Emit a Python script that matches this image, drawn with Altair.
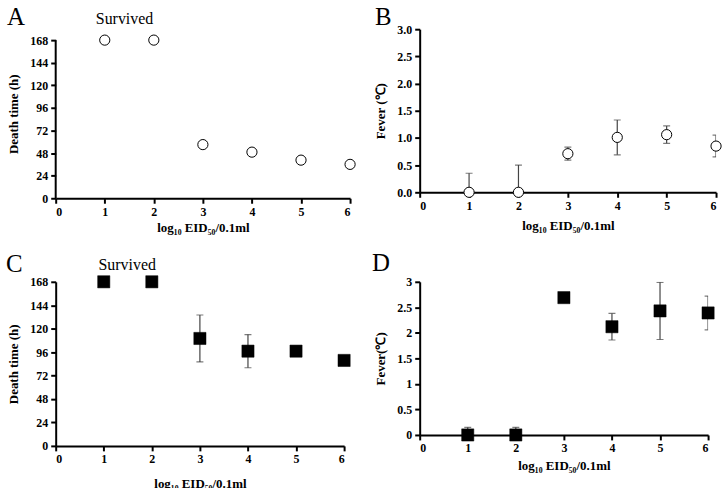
import altair as alt
import pandas as pd

FONT = "Liberation Serif"

# log10 EID50/0.1ml doses
dose = [1, 2, 3, 4, 5, 6]

# Panel A: mean death time (h), 168 = survived
death_a = [168, 168, 57, 49, 40.5, 36]

# Panel B: fever (deg C) with standard deviation
fever_b = [0, 0, 0.71, 1.01, 1.06, 0.85]
fever_b_sd = [0.35, 0.5, 0.12, 0.32, 0.16, 0.2]

# Panel C: mean death time (h) with standard deviation
death_c = [168, 168, 110, 97, 97, 87.5]
death_c_sd = [0, 0, 24, 17, 3, 0]

# Panel D: fever (deg C) with standard deviation
fever_d = [0, 0, 2.69, 2.12, 2.43, 2.39]
fever_d_sd = [0.15, 0.15, 0, 0.26, 0.56, 0.33]

death_ticks = [0, 24, 48, 72, 96, 120, 144, 168]
fever_ticks = [0, 0.5, 1, 1.5, 2, 2.5, 3]
dose_ticks = [0, 1, 2, 3, 4, 5, 6]

X_TITLE = "log\u2081\u2080 EID\u2085\u2080/0.1ml"
ERR_COLOR = "#444444"


def x_enc(title_pad=4):
    return alt.X(
        "dose:Q",
        scale=alt.Scale(domain=[0, 6], nice=False),
        axis=alt.Axis(values=dose_ticks, format="d", title=X_TITLE,
                      titlePadding=title_pad, labelOverlap=False),
    )


def error_bars(df, ys, xe, yax):
    base = alt.Chart(df).transform_filter("datum.sd > 0").transform_calculate(
        lo="datum.val - datum.sd", hi="datum.val + datum.sd"
    )
    rule = base.mark_rule(color=ERR_COLOR, strokeWidth=1.2, clip=True).encode(
        x=xe, y=alt.Y("lo:Q", scale=ys, axis=yax), y2="hi:Q"
    )
    cap_hi = base.mark_tick(
        color=ERR_COLOR, thickness=1.2, size=7, orient="horizontal", clip=True
    ).encode(x=xe, y=alt.Y("hi:Q", scale=ys, axis=yax))
    cap_lo = base.mark_tick(
        color=ERR_COLOR, thickness=1.2, size=7, orient="horizontal", clip=True
    ).encode(x=xe, y=alt.Y("lo:Q", scale=ys, axis=yax))
    return rule + cap_hi + cap_lo


def letter(txt, dx, dy):
    return alt.Chart(pd.DataFrame({"t": [txt]})).mark_text(
        font=FONT, fontSize=25, align="left", baseline="alphabetic", color="black"
    ).encode(x=alt.value(dx), y=alt.value(dy), text="t:N")


def survived(df, ys, xe, yax, dx, dy):
    return alt.Chart(df).transform_filter("datum.dose == 1").mark_text(
        font=FONT, fontSize=16, align="left", baseline="alphabetic",
        color="black", dx=dx, dy=dy, text="Survived"
    ).encode(x=xe, y=alt.Y("val:Q", scale=ys, axis=yax))


def panel(vals, sds, y_domain, y_ticks, y_title, y_format, shape, filled, tag,
          tag_pos, surv, width, height, x_title_pad, y_top=None):
    df = pd.DataFrame({"dose": dose, "val": vals, "sd": sds})
    xe = x_enc(x_title_pad)
    ys = alt.Scale(domain=y_domain, nice=False)
    # when the scale runs above the last tick, the axis line is drawn as a rule
    own_line = y_top is not None
    yax = alt.Axis(values=y_ticks, format=y_format, title=y_title,
                   domain=not own_line, labelOverlap=False)
    if filled:
        pts = alt.Chart(df).mark_point(
            shape=shape, filled=True, fill="black", stroke="black",
            strokeWidth=0.5, size=150, opacity=1
        )
    else:
        pts = alt.Chart(df).mark_point(
            shape=shape, filled=True, fill="white", stroke="black",
            strokeWidth=1, size=105, opacity=1
        )
    pts = pts.encode(x=xe, y=alt.Y("val:Q", scale=ys, axis=yax))
    layers = [pts]
    if any(s > 0 for s in sds):
        layers.insert(0, error_bars(df, ys, xe, yax))
    if own_line:
        line_df = pd.DataFrame({"dose": [0], "lo": [0], "hi": [y_top]})
        layers.insert(
            0,
            alt.Chart(line_df).mark_rule(color="black", strokeWidth=2).encode(
                x=xe, y=alt.Y("lo:Q", scale=ys, axis=yax), y2="hi:Q"
            ),
        )
    if surv is not None:
        layers.append(survived(df, ys, xe, yax, surv[0], surv[1]))
    layers.append(letter(tag, tag_pos[0], tag_pos[1]))
    return alt.layer(*layers).properties(width=width, height=height)


chart_a = panel(death_a, [0] * 6, [0, 179.6], death_ticks, "Death time (h)", "d",
                "circle", False, "A", (-49, -4.7), (-9, -16.3), 296, 170, 4,
                y_top=168)
chart_b = panel(fever_b, fever_b_sd, [0, 3], fever_ticks, "Fever (\u2103)", ".1f",
                "circle", False, "B", (-45, -4.7), None, 298, 164, 8)
chart_c = panel(death_c, death_c_sd, [0, 168], death_ticks, "Death time (h)", "d",
                "square", True, "C", (-50, -9.7), (-5.3, -12), 290, 165, 13)
chart_d = panel(fever_d, fever_d_sd, [0, 3], fever_ticks, "Fever(\u2103)", "~g",
                "square", True, "D", (-48, -11.3), None, 290, 154, 6)

chart = alt.concat(
    chart_a, chart_b, chart_c, chart_d, columns=2,
    spacing=alt.RowColnumber(row=84, column=70),
    bounds="flush",
).properties(
    padding={"left": 6, "top": 3, "right": 0, "bottom": 0},
    background="white",
).configure_view(stroke=None).configure_axis(
    domainColor="black", domainWidth=2, tickColor="black", tickWidth=2,
    tickSize=5, grid=False, labelOverlap=False,
    labelFont=FONT, labelFontSize=12, labelFontWeight="bold",
    labelColor="black", labelPadding=3,
    titleFont=FONT, titleFontSize=13, titleFontWeight="bold",
    titleColor="black",
).configure_axisY(titlePadding=9)

chart.save("out.html", embed_options={"renderer": "svg", "actions": False})
